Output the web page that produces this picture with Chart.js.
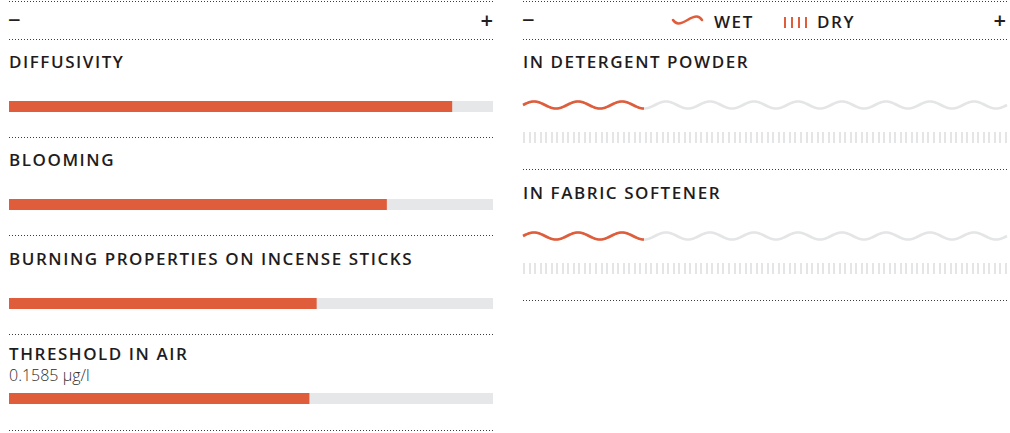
<!DOCTYPE html>
<html>
<head>
<meta charset="utf-8">
<script src="https://cdn.jsdelivr.net/npm/chart.js@4.4.1/dist/chart.umd.min.js"></script>
<style>
  html, body { margin:0; padding:0; background:#fff; }
  body { width:1010px; height:433px; position:relative; overflow:hidden; font-family:'Open Sans', sans-serif; }
  .t { position:absolute; white-space:nowrap; font-weight:600; font-size:17px; line-height:17px; letter-spacing:1.55px; color:#1f1c1d; }
  .s { position:absolute; white-space:nowrap; font-weight:300; font-size:16px; line-height:16px; color:#2e2e2e; }
  .sign { position:absolute; white-space:nowrap; font-weight:600; font-size:22px; line-height:22px; color:#231f20; }
  .dots { position:absolute; height:1px; background-image:repeating-linear-gradient(to right, #3c3c3c 0 1px, transparent 1px 3px); }
  canvas { position:absolute; }
</style>
</head>
<body>
<script>
// ---------- DATA ----------
const leftCategories = ['DIFFUSIVITY', 'BLOOMING', 'BURNING PROPERTIES ON INCENSE STICKS', 'THRESHOLD IN AIR'];
const leftSubtitles  = ['', '', '', '0.1585 µg/l'];
const leftValues     = [91.5, 78, 63.5, 62];
const rightCategories = ['IN DETERGENT POWDER', 'IN FABRIC SOFTENER'];
const seriesLabels   = ['WET', 'DRY'];
const wetValues      = [25, 25];
const dryValues      = [0, 0];
const scaleEnds      = ['−', '+'];
const scaleMin = 0, scaleMax = 100;

// ---------- STYLE / LAYOUT ----------
const ORANGE = '#e05d3b';
const TRACK = '#e6e7e8';
const PATTERN_GRAY = '#e4e5e6';
const L = { x:9, w:484 };
const R = { x:523, w:484 };
const leftTitleBase = [68, 166, 265, 360];
const leftSubBase = 381;
const leftBarTop = [101, 199, 298, 393];
const leftDots = [1, 39, 137, 235, 334, 430];
const rightTitleBase = [68, 199];
const rightRowTop = [89, 220];
const rightDots = [1, 39, 169, 300];

function baselineTop(base, fs, lh, asc=1.069, desc=0.293) {
  return base - ((lh - (asc + desc) * fs) / 2 + asc * fs);
}
function addText(cls, text, x, base, fs, lh) {
  const d = document.createElement('div');
  d.className = cls; d.textContent = text;
  d.style.left = x + 'px'; d.style.top = baselineTop(base, fs, lh) + 'px';
  document.body.appendChild(d); return d;
}
function addDots(x, y, w) {
  const d = document.createElement('div');
  d.className = 'dots'; d.style.left = x + 'px'; d.style.top = y + 'px'; d.style.width = w + 'px';
  document.body.appendChild(d);
}
function addCanvas(x, y, w, h) {
  const c = document.createElement('canvas');
  c.width = w; c.height = h; c.style.left = x + 'px'; c.style.top = y + 'px';
  c.style.width = w + 'px'; c.style.height = h + 'px';
  document.body.appendChild(c); return c;
}

leftDots.forEach(y => addDots(L.x, y, L.w));
rightDots.forEach(y => addDots(R.x, y, R.w));

// header signs
addText('sign', scaleEnds[0], L.x - 1, 27.5, 22, 22);
const lp = addText('sign', scaleEnds[1], 0, 27.5, 22, 22); lp.style.left = ''; lp.style.right = (1010 - L.x - L.w) + 'px';
addText('sign', scaleEnds[0], R.x - 1, 27.5, 22, 22);
const rp = addText('sign', scaleEnds[1], 0, 27.5, 22, 22); rp.style.left = ''; rp.style.right = (1010 - R.x - R.w + 1) + 'px';

// legend (icons + text)
const legendSvg = document.createElementNS('http://www.w3.org/2000/svg', 'svg');
legendSvg.setAttribute('width', '150'); legendSvg.setAttribute('height', '20');
legendSvg.style.position = 'absolute'; legendSvg.style.left = '670px'; legendSvg.style.top = '10px';
legendSvg.innerHTML =
  '<path d="M3,10 C6.2,14.6 9.6,14.6 17.5,10 S28.8,5.4 32,10" fill="none" stroke="' + ORANGE + '" stroke-width="2.6" stroke-linecap="round"/>' +
  [0,1,2,3].map(i => '<rect x="' + (114 + i*7) + '" y="7" width="2" height="11" fill="' + ORANGE + '"/>').join('');
document.body.appendChild(legendSvg);
addText('t', seriesLabels[0], 714, 28, 17, 17);
addText('t', seriesLabels[1], 817, 28, 17, 17);

// titles
leftCategories.forEach((c, i) => {
  addText('t', c, L.x, leftTitleBase[i], 17, 17);
  if (leftSubtitles[i]) addText('s', leftSubtitles[i], L.x, leftSubBase, 16, 16);
});
rightCategories.forEach((c, i) => addText('t', c, R.x, rightTitleBase[i], 17, 17));

// ---------- CHARTS ----------
const trackPlugin = {
  id: 'track',
  beforeDatasetsDraw(chart) {
    const ctx = chart.ctx, xs = chart.scales.x;
    const meta = chart.getDatasetMeta(0);
    meta.data.forEach(el => {
      const h = el.height;
      ctx.save();
      ctx.fillStyle = TRACK;
      ctx.fillRect(xs.getPixelForValue(scaleMin), el.y - h / 2, xs.getPixelForValue(scaleMax) - xs.getPixelForValue(scaleMin), h);
      ctx.restore();
    });
  }
};

const baseOptions = (extra) => Object.assign({
  indexAxis: 'y', responsive: false, animation: false, events: [],
  devicePixelRatio: 1,
  plugins: { legend: { display: false }, tooltip: { enabled: false } },
  scales: { x: { display: false, min: scaleMin, max: scaleMax }, y: { display: false } },
  layout: { padding: 0 }
}, extra || {});

leftCategories.forEach((c, i) => {
  const cv = addCanvas(L.x, leftBarTop[i], L.w, 11);
  new Chart(cv, {
    type: 'bar',
    data: { labels: [c], datasets: [{ data: [leftValues[i]], backgroundColor: ORANGE, borderWidth: 0, barPercentage: 1, categoryPercentage: 1 }] },
    options: baseOptions(),
    plugins: [trackPlugin]
  });
});

const patternPlugin = {
  id: 'patterns',
  afterDatasetsDraw(chart) {
    const ctx = chart.ctx, xs = chart.scales.x;
    const x0 = xs.getPixelForValue(scaleMin), x1 = xs.getPixelForValue(scaleMax);
    const meta = chart.getDatasetMeta(0);
    const labels = chart.data.labels;
    meta.data.forEach((el, i) => {
      const kind = labels[i];
      const draw = (color) => {
        if (kind === seriesLabels[0]) {
          const P = (x1 - x0) / 11, A = 3.5;
          ctx.beginPath();
          for (let x = x0; x <= x1 + 0.01; x += 0.5) {
            const y = el.y - A * Math.sin(2 * Math.PI * (x - x0) / P);
            if (x === x0) ctx.moveTo(x, y); else ctx.lineTo(x, y);
          }
          ctx.strokeStyle = color; ctx.lineWidth = 2.6; ctx.lineCap = 'butt';
          ctx.stroke();
        } else {
          ctx.fillStyle = color;
          const step = (x1 - x0 - 2) / 87;
          for (let k = 0; k <= 87; k++) ctx.fillRect(Math.round(x0 + k * step), el.y - 5, 2, 11);
        }
      };
      ctx.save(); draw(PATTERN_GRAY); ctx.restore();
      if (el.x > el.base) {
        ctx.save();
        ctx.beginPath(); ctx.rect(el.base - 3, 0, el.x - el.base + 3, chart.height); ctx.clip();
        draw(ORANGE);
        ctx.restore();
      }
    });
  }
};

rightCategories.forEach((c, i) => {
  const cv = addCanvas(R.x - 3, rightRowTop[i], R.w + 6, 64);
  new Chart(cv, {
    type: 'bar',
    data: { labels: seriesLabels.slice(), datasets: [{ label: c, data: [wetValues[i], dryValues[i]], backgroundColor: 'rgba(0,0,0,0)', borderWidth: 0, barPercentage: 1, categoryPercentage: 1 }] },
    options: baseOptions({ layout: { padding: { left: 3, right: 3, top: 0, bottom: 0 } } }),
    plugins: [patternPlugin]
  });
});
</script>
</body>
</html>
